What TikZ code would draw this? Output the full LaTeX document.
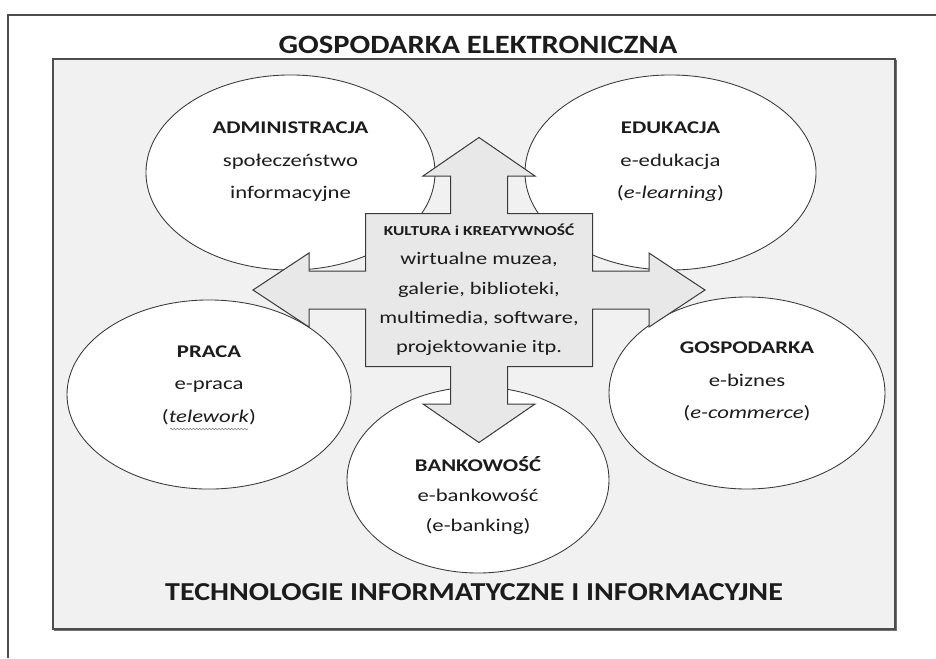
\documentclass[tikz,border=0pt]{standalone}
\usepackage{fontspec}
\setmainfont{Carlito}[FakeStretch=1.27]
\newfontfamily\titlefont{Carlito}[FakeStretch=1.16]
\usepackage{xcolor}
\usepackage{tikz}
\usetikzlibrary{shapes.geometric,positioning,calc,decorations.pathmorphing}
\definecolor{Ink}{HTML}{1C1C1C}
\definecolor{Edge}{HTML}{3A3A3A}
\definecolor{Frame}{HTML}{4D4D4D}
\definecolor{PanelF}{HTML}{F1F1F1}
\definecolor{CrossF}{HTML}{E8E8E8}

\begin{document}
\begin{tikzpicture}[x=0.75pt,y=-0.75pt,
    oval/.style={ellipse,draw=Edge,fill=white,line width=0.65pt,inner sep=0pt},
    lbl/.style={align=center,text=Ink,inner sep=0pt,
      font=\fontsize{13.4}{24.5}\selectfont},
    cross/.style={draw=Edge,fill=CrossF,line width=0.75pt,line join=miter},
    ttl/.style={text=Ink,inner sep=0pt,font=\titlefont\bfseries}]
  \useasboundingbox (0,0) rectangle (936,658);
  % frame and panel
  \draw[Frame,line width=1.1pt] (8,658) -- (8,15) -- (936,15);
  \draw[Frame,fill=PanelF,line width=1pt] (53,59) rectangle (895,629);
  \draw[Frame!80,line width=0.8pt] (896.5,60) -- (896.5,630.5) -- (54,630.5);
  \node[ttl,font=\titlefont\bfseries\fontsize{19.8}{24}\selectfont] (head) at (478,44.5) {GOSPODARKA ELEKTRONICZNA};
  \node[ttl,font=\titlefont\bfseries\fontsize{19.4}{24}\selectfont] (foot) at (474,592) {TECHNOLOGIE INFORMATYCZNE I INFORMACYJNE};
  % ovals
  \node[oval,minimum width=216.8pt,minimum height=146.3pt] (adm) at (290.5,172.5) {};
  \node[oval,minimum width=218.3pt,minimum height=146.3pt] (edu) at (670.5,172.5) {};
  \node[oval,minimum width=213pt,minimum height=141.8pt] (pra) at (209,394.5) {};
  \node[oval,minimum width=207pt,minimum height=144pt] (gos) at (747,393) {};
  \node[oval,minimum width=196.5pt,minimum height=139.5pt] (ban) at (478,480) {};
  \node[lbl] (admtxt) at ([yshift=8pt]adm.center) {\textbf{ADMINISTRACJA}\\społeczeństwo\\informacyjne};
  \node[lbl] (edutxt) at ([yshift=8pt]edu.center) {\textbf{EDUKACJA}\\e-edukacja\\(\textit{e-learning})};
  \node[lbl] (pratxt) at ([yshift=7pt]pra.center) {\textbf{PRACA}\\e-praca\\(\textit{telework})};
  \node[lbl] (gostxt) at ([yshift=8.5pt]gos.center) {\textbf{GOSPODARKA}\\e-biznes\\(\textit{e-commerce})};
  \node[lbl,font=\fontsize{13.4}{22.5}\selectfont] (bantxt) at ([yshift=-12pt]ban.center) {\textbf{BANKOWOŚĆ}\\e-bankowość\\(e-banking)};
  \draw[gray,line width=0.4pt,decorate,decoration={snake,amplitude=0.6pt,segment length=2.4pt}] (170,429) -- (248,429);
  % cross of arrows
  \coordinate (mid) at (479,290);
  \draw[cross,shift={(mid)}] (0,-152.5) -- (56,-114) -- (28.5,-114) -- (28.5,-76.5)
    -- (113.5,-76.5) -- (113.5,-19) -- (170,-19) -- (170,-37) -- (226,0)
    -- (170,37) -- (170,19) -- (113.5,19) -- (113.5,76.5) -- (28.5,76.5)
    -- (28.5,114) -- (56,114) -- (0,152.5) -- (-56,114) -- (-28.5,114)
    -- (-28.5,76.5) -- (-113.5,76.5) -- (-113.5,19) -- (-170,19) -- (-170,37)
    -- (-226,0) -- (-170,-37) -- (-170,-19) -- (-113.5,-19) -- (-113.5,-76.5)
    -- (-28.5,-76.5) -- (-28.5,-114) -- (-56,-114) -- cycle;
  \node[lbl,font=\fontsize{13.2}{22}\selectfont] (kult) at (mid) {{\bfseries\fontsize{10.3}{22}\selectfont KULTURA i KREATYWNOŚĆ}\\wirtualne muzea,\\galerie, biblioteki,\\multimedia, software,\\projektowanie itp.};
\end{tikzpicture}
\end{document}
